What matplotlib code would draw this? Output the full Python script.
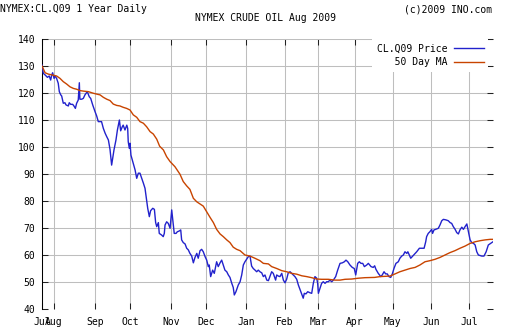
import matplotlib
matplotlib.use("Agg")
import matplotlib.pyplot as plt

# Formatting
matplotlib.rc('font', family='DejaVu Sans Mono', size=7)

# trading-day index (0 = late Jul 2008) and close price
price_day = [0, 0.7, 1.7, 3, 4, 4.8, 5.4, 5.9, 6.7, 7.2, 8.1, 9, 9.6, 10.4, 10.9, 11.8, 12.7, 13.3,
             14.6, 15.1, 15.9, 17, 17.7, 18.5, 19.2, 20.1, 20.7, 21, 22, 22.9, 23.8, 25.1, 26.2, 27,
             28.1, 29.4, 30.3, 31.2, 33, 34, 35, 35.9, 36.8, 37.7, 38.6, 39.2, 39.9, 41, 41.8, 42.9,
             43.6, 44.5, 45, 46, 47, 47.5, 47.8, 48.4, 48.8, 49.3, 50.3, 51.6, 52.5, 53.4, 54.3, 55.3,
             56.2, 57.1, 58, 58.6, 59.5, 60.2, 61.4, 62.3, 63, 63.6, 64.5, 65, 66.3, 67.2, 67.8, 68.2,
             69.1, 70, 71, 71.9, 72.4, 73.3, 74.3, 75, 76.1, 76.9, 77.4, 78.3, 79.3, 80.2, 81.1, 82,
             83, 83.9, 84.8, 85.8, 86.6, 87.6, 88.5, 89.4, 90.4, 91.3, 92.2, 92.7, 93.5, 94.6, 95.5,
             96.8, 97.7, 98.7, 99.6, 100.5, 101.4, 102.4, 103.3, 104.2, 105.2, 106, 106.6, 107.5,
             108.8, 109.8, 110.7, 111.6, 112.5, 114.4, 115.3, 116.2, 117.1, 118.1, 119, 119.9, 120.8,
             121.8, 122.7, 123.6, 124.6, 125.5, 126.4, 127.3, 128.2, 129.5, 130.1, 131, 131.9, 132.9,
             133.8, 134.7, 135.6, 136.5, 137.5, 138.4, 139.3, 140.2, 141.2, 142.1, 143, 143.9, 144.8,
             145.4, 146.3, 147.3, 148.6, 149.5, 150.4, 151.3, 152.3, 152.8, 153.2, 154.1, 155, 155.9,
             156.9, 157.8, 158.7, 159.6, 160.6, 161.5, 162.8, 163.9, 165.2, 166.5, 167.6, 168.5,
             169.5, 170.7, 172, 173.1, 173.9, 175, 175.9, 176.8, 177.8, 178.7, 180, 180.9, 182.4,
             183.6, 184.4, 185.1, 186.4, 187.8, 188.6, 189.6, 190.5, 191.4, 192.3, 193.3, 194.2,
             195.1, 196.2, 197.5, 198.4, 199.4, 200.3, 201.2, 202.2, 202.8, 203.6, 204.4, 205.5,
             206.8, 207.7, 209.2, 211.8, 212.7, 213.2, 214.1, 215, 216, 216.5, 217.3, 218.2, 219.7,
             220.6, 221.6, 222.5, 223.9, 225.2, 226.2, 227.1, 228, 229, 229.9, 230.8, 231.7, 232.7,
             233.6, 234.5, 235.5, 236.4, 237.3, 238.2, 239.2, 240.1, 241, 241.9, 243.8, 245, 246.2,
             247.4, 248.7, 250]
price_val = [130.4, 127.3, 126.7, 125.8, 126.3, 124.8, 126.7, 127.5, 125.4, 126.3, 125.4, 123.6,
             120.5, 119.3, 118.9, 116.2, 116.4, 115.6, 115.2, 116.4, 115.8, 115.8, 115.2, 114.3,
             116.2, 117.4, 123.8, 117.7, 117.7, 118.0, 119.3, 120.5, 118.6, 118.0, 115.6, 113.1,
             111.5, 109.4, 109.4, 106.9, 105.1, 103.8, 102.6, 99.1, 93.3, 95.8, 98.9, 102.6, 106.3,
             110.0, 106.0, 107.5, 108.1, 106.3, 108.1, 106.9, 102.0, 99.5, 101.4, 97.0, 94.6, 91.5,
             88.4, 90.3, 90.3, 88.4, 86.6, 84.7, 80.4, 77.3, 74.2, 76.4, 77.3, 76.9, 72.0, 70.5,
             72.0, 68.0, 67.4, 66.8, 68.0, 71.1, 72.3, 71.7, 69.9, 76.7, 73.6, 68.0, 68.0, 68.6,
             68.9, 69.3, 65.6, 64.6, 64.1, 62.5, 61.9, 60.6, 59.6, 57.1, 59.1, 60.6, 58.8, 61.6,
             62.1, 61.2, 59.4, 58.1, 55.7, 56.3, 52.0, 54.4, 53.2, 57.5, 55.7, 57.1, 58.1, 56.3,
             54.4, 53.8, 52.6, 51.7, 49.5, 48.0, 45.2, 46.4, 48.9, 50.1, 52.6, 56.3, 57.5, 59.4,
             59.6, 55.9, 55.0, 54.4, 53.8, 54.4, 53.8, 53.4, 52.0, 52.6, 50.7, 50.5, 52.2, 53.8,
             53.2, 50.7, 52.6, 52.2, 52.0, 53.2, 50.7, 49.7, 51.0, 53.4, 53.8, 53.2, 52.6, 52.0,
             51.0, 48.9, 47.3, 45.8, 44.0, 45.8, 45.6, 46.4, 46.0, 45.8, 49.5, 52.0, 51.4, 49.5,
             45.8, 47.7, 49.5, 50.1, 49.5, 50.1, 50.1, 50.7, 50.1, 50.7, 52.0, 54.4, 56.9, 57.1,
             57.5, 58.1, 57.5, 56.3, 55.4, 55.0, 52.6, 56.9, 57.5, 56.9, 56.9, 55.7, 56.3, 56.9,
             55.7, 55.4, 56.0, 54.7, 53.2, 52.0, 52.6, 53.8, 53.0, 53.0, 52.0, 51.7, 53.0, 55.0,
             56.9, 57.5, 58.8, 59.6, 60.0, 61.2, 60.6, 61.2, 60.0, 58.8, 59.6, 60.6, 61.2, 62.5,
             62.5, 64.9, 66.8, 68.0, 68.6, 69.5, 68.0, 69.3, 69.5, 69.9, 71.1, 72.7, 73.2, 73.0,
             72.7, 72.0, 71.7, 70.5, 69.5, 68.3, 67.8, 69.3, 70.3, 69.5, 70.5, 71.5, 68.6, 65.6,
             64.6, 64.3, 63.7, 61.2, 60.0, 59.6, 59.6, 61.2, 63.7, 64.3, 64.9]

# 50 day moving average
ma_day = [0, 1.7, 3.5, 5.5, 8.1, 10, 11.8, 13.7, 15.5, 17.4, 19.2, 21, 22.9, 25.7, 28.5, 30.3,
          32.2, 34, 35.9, 37.7, 39.5, 41.4, 43.2, 45, 46.9, 48.8, 50.6, 52.5, 54.3, 56.2, 58,
          59.9, 61.7, 63.6, 65.2, 67.3, 69.1, 71, 73.7, 76.5, 78.3, 80.2, 82, 83.9, 85.8, 87.6,
          89.4, 91.3, 93.1, 95, 96.8, 98.7, 100.5, 102.4, 104.2, 106, 107.9, 109.8, 112.5, 115.3,
          118, 120.8, 122.7, 125.5, 127.3, 130.1, 132.9, 135.6, 138.4, 141.2, 144, 146.7, 149.5,
          152.3, 155, 158.7, 162.4, 165.2, 168, 171.7, 175.3, 179, 184.4, 187.4, 192.9, 195.7,
          198.4, 201.2, 204, 206.8, 209.5, 212.3, 215.1, 217.8, 220.6, 223.4, 226.2, 228.9,
          231.7, 234.5, 237.3, 240.1, 242.9, 245.7, 248.5, 250.7]
ma_val = [130.0, 127.5, 127.0, 126.7, 126.3, 125.4, 124.2, 123.3, 122.3, 121.7, 121.4, 120.9,
          120.7, 120.5, 119.9, 119.6, 119.3, 118.4, 117.7, 117.2, 115.9, 115.4, 115.2, 114.7,
          114.3, 113.7, 111.9, 111.0, 109.4, 108.8, 107.5, 105.7, 104.8, 102.9, 100.3, 98.9,
          96.4, 94.6, 92.7, 89.9, 87.2, 85.6, 84.3, 81.0, 79.7, 78.9, 78.1, 76.0, 74.0, 72.0,
          69.5, 67.8, 66.8, 65.6, 64.6, 62.9, 62.1, 61.6, 60.0, 59.6, 58.8, 57.9, 56.9, 56.7,
          55.7, 55.0, 54.2, 53.8, 53.2, 52.9, 52.3, 52.0, 51.6, 51.1, 51.0, 51.0, 50.7, 50.7,
          51.0, 51.1, 51.4, 51.6, 51.7, 52.0, 52.2, 53.0, 53.8, 54.4, 55.0, 55.4, 56.3, 57.5,
          57.9, 58.4, 59.1, 60.0, 60.9, 61.6, 62.5, 63.3, 64.3, 64.9, 65.3, 65.6, 65.8, 65.8]

month_pos = [0, 6.7, 29.4, 48.8, 71.5, 91, 113, 134.5, 153, 173.5, 194.5, 215.6, 236.7]
month_lbl = ['Jul', 'Aug', 'Sep', 'Oct', 'Nov', 'Dec', 'Jan', 'Feb', 'Mar', 'Apr', 'May', 'Jun', 'Jul']
y_ticks = [40, 50, 60, 70, 80, 90, 100, 110, 120, 130, 140]

fig = plt.figure(figsize=(5.12, 3.36), dpi=100)
ax = fig.add_axes([42/512, 27/336, 451/512, 270/336])

ax.plot(price_day, price_val, color='#2222cc', lw=1.0, label='CL.Q09 Price', zorder=3)
ax.plot(ma_day, ma_val, color='#c84400', lw=1.0, label='   50 Day MA', zorder=3)

ax.set_xlim(0, 250)
ax.set_ylim(40, 140)
ax.set_xticks(month_pos)
ax.set_xticklabels(month_lbl)
ax.set_yticks(y_ticks)

ax.grid(True, color='#bebebe', lw=0.75)
ax.yaxis.get_gridlines()[0].set_visible(False)
ax.set_axisbelow(True)
for s in ['top', 'right', 'bottom']:
    ax.spines[s].set_visible(False)
ax.spines['left'].set_color('black')
ax.spines['left'].set_linewidth(0.75)
ax.tick_params(direction='in', length=4, width=0.75, top=True, right=True, color='#222222')
ax.tick_params(axis='x', pad=6)
ax.tick_params(axis='y', pad=5)

leg = ax.legend(loc='upper right', bbox_to_anchor=(0.99, 1.0), borderaxespad=0,
                markerfirst=False, fancybox=False, framealpha=1, edgecolor='none',
                facecolor='white', handlelength=3, handletextpad=0.7, labelspacing=0.35,
                borderpad=0.5)
leg.set_zorder(5)

fig.text(0.0, 0.972, 'NYMEX:CL.Q09 1 Year Daily', ha='left', va='center')
fig.text(0.962, 0.972, '(c)2009 INO.com', ha='right', va='center')
fig.text(0.518, 0.946, 'NYMEX CRUDE OIL Aug 2009', ha='center', va='center')

fig.savefig('out.png', dpi=100)
